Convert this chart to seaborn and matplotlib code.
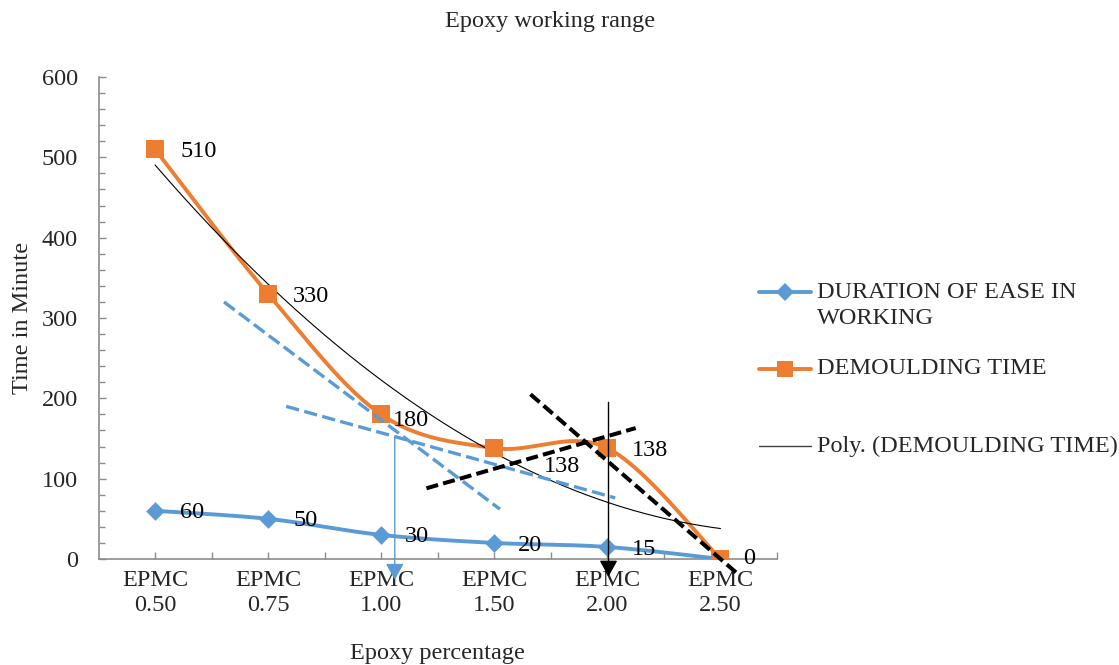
import numpy as np
import pandas as pd
import matplotlib
matplotlib.use("Agg")
import matplotlib.pyplot as plt
from matplotlib.lines import Line2D
from matplotlib.ticker import MultipleLocator, FixedLocator
import seaborn as sns

# ---------------- data ----------------
categories = ["EPMC\n0.50", "EPMC\n0.75", "EPMC\n1.00", "EPMC\n1.50", "EPMC\n2.00", "EPMC\n2.50"]
ease_working = [60, 50, 30, 20, 15, 0]
demoulding = [510, 330, 180, 138, 138, 0]

series_names = ["DURATION OF EASE IN\nWORKING", "DEMOULDING TIME", "Poly. (DEMOULDING TIME)"]

# hand-drawn guide lines of the original (category index, value)
blue_guide1_x, blue_guide1_y = [0.61, 3.05], [320, 62]
blue_guide2_x, blue_guide2_y = [1.16, 4.07], [190, 76]
black_guide1_x, black_guide1_y = [3.32, 5.14], [205, -17]
black_guide2_x, black_guide2_y = [2.40, 4.25], [88, 163]
blue_arrow_x, blue_arrow_y = 2.12, [152, -26]
black_arrow_x, black_arrow_y = 4.01, [195, -22]

# label offsets (pixels) for data labels; None = label hidden under the other series' label
ease_label_off = [(25, -2), (25, -2), (24, -2), (24, -3), (24, -3), None]
dem_label_off = [(25, -2), (25, -3), (12, -6), (50, -18), (24, -2), (23, 0)]

BLUE = "#5B9BD5"
ORANGE = "#ED7D31"
GRAY = "#8C8C8C"


def excel_smooth(xs, ys, n=40):
    P = np.column_stack([xs, ys]).astype(float)
    ext = np.vstack([P[0], P, P[-1]])
    pts = []
    t = np.linspace(0, 1, n)[:, None]
    for i in range(len(P) - 1):
        p0, p1, p2, p3 = ext[i], ext[i + 1], ext[i + 2], ext[i + 3]
        c1 = p1 + (p2 - p0) / 6.0
        c2 = p2 - (p3 - p1) / 6.0
        B = (1 - t) ** 3 * p1 + 3 * (1 - t) ** 2 * t * c1 + 3 * (1 - t) * t ** 2 * c2 + t ** 3 * p2
        pts.append(B if i == 0 else B[1:])
    pts = np.vstack(pts)
    return pts[:, 0], pts[:, 1]


sns.set_theme(style="white")
plt.rcParams["font.family"] = ["Liberation Serif", "DejaVu Serif"]
plt.rcParams["font.size"] = 17

W, H = 1119, 665
fig = plt.figure(figsize=(W / 100, H / 100), dpi=100)
ax = fig.add_axes([98.5 / W, 1 - 559 / H, (777 - 98.5) / W, (559 - 77) / H])

idx = np.arange(len(categories))

# smoothed series lines
ex, ey = excel_smooth(idx, ease_working)
dx, dy = excel_smooth(idx, demoulding)
sns.lineplot(x=ex, y=ey, sort=False, estimator=None, color=BLUE, linewidth=2.8, ax=ax, zorder=3)
sns.lineplot(x=dx, y=dy, sort=False, estimator=None, color=ORANGE, linewidth=2.8, ax=ax, zorder=3)

# polynomial (order 2) trendline of demoulding time, like Excel's
coef = np.polyfit(idx + 1, demoulding, 2)
tx = np.linspace(0, len(categories) - 1, 200)
ty = np.polyval(coef, tx + 1)
sns.lineplot(x=tx, y=ty, sort=False, estimator=None, color="black", linewidth=0.8, ax=ax, zorder=3)

# markers
sns.scatterplot(x=idx, y=ease_working, marker="D", s=90, color=BLUE, edgecolor=BLUE, linewidth=0, ax=ax, zorder=4)
sns.scatterplot(x=idx, y=demoulding, marker="s", s=150, color=ORANGE, edgecolor=ORANGE, linewidth=0, ax=ax, zorder=4)

# data labels
for i, v in enumerate(ease_working):
    if ease_label_off[i] is None:
        continue
    ax.annotate(str(v), (i, v), xytext=ease_label_off[i], textcoords="offset pixels",
                ha="left", va="center", fontsize=17.5, color="black", zorder=6, annotation_clip=False)
for i, v in enumerate(demoulding):
    ax.annotate(str(v), (i, v), xytext=dem_label_off[i], textcoords="offset pixels",
                ha="left", va="center", fontsize=17.5, color="black", zorder=6, annotation_clip=False)

# guide lines
ax.plot(blue_guide1_x, blue_guide1_y, color=BLUE, lw=2.4, dashes=(4, 1.6), zorder=5, clip_on=False)
ax.plot(blue_guide2_x, blue_guide2_y, color=BLUE, lw=2.4, dashes=(4, 1.6), zorder=5, clip_on=False)
ax.plot(black_guide1_x, black_guide1_y, color="black", lw=2.9, dashes=(3, 1.3), zorder=5, clip_on=False)
ax.plot(black_guide2_x, black_guide2_y, color="black", lw=2.9, dashes=(3, 1.3), zorder=5, clip_on=False)

for x, ys, c in [(blue_arrow_x, blue_arrow_y, BLUE), (black_arrow_x, black_arrow_y, "black")]:
    ax.annotate("", xy=(x, ys[1]), xytext=(x, ys[0]),
                arrowprops=dict(arrowstyle="-|>,head_length=1.0,head_width=0.55", color=c, lw=1.0,
                                shrinkA=0, shrinkB=0, mutation_scale=10),
                annotation_clip=False, zorder=7)

# axes styling
ax.set_xlim(-0.5, len(categories) - 0.5)
ax.set_ylim(0, 600)
ax.xaxis.set_major_locator(FixedLocator(idx))
ax.set_xticklabels(categories, linespacing=1.25)
ax.xaxis.set_minor_locator(FixedLocator(idx + 0.5))
ax.yaxis.set_major_locator(MultipleLocator(100))
ax.yaxis.set_minor_locator(MultipleLocator(20))
ax.tick_params(axis="x", which="both", direction="in", length=5, width=1, color=GRAY,
               pad=8, labelsize=17.5, bottom=True)
ax.tick_params(axis="y", which="major", direction="in", length=5, width=1, color=GRAY,
               pad=15, labelsize=17.5, left=True)
ax.tick_params(axis="y", which="minor", direction="in", length=4, width=1, color=GRAY, left=True)
for s in ["top", "right"]:
    ax.spines[s].set_visible(False)
for s in ["left", "bottom"]:
    ax.spines[s].set_color(GRAY)
    ax.spines[s].set_linewidth(1.2)
ax.grid(False)

ax.set_xlabel("Epoxy percentage", fontsize=17.5)
ax.xaxis.set_label_coords(0.5, (559 - 653) / (559 - 77))
ax.xaxis.label.set_va("center")
ax.set_ylabel("Time in Minute", fontsize=17.5)
ax.yaxis.set_label_coords((23 - 98.5) / (777 - 98.5), 0.5)
ax.yaxis.label.set_va("center")

fig.text(550 / W, 1 - 22 / H, "Epoxy working range", ha="center", va="center", fontsize=17.5)

# legend (Excel-like layout)
leg_rows = [
    (292, BLUE, "D", 8.8, 2.8, series_names[0]),
    (369, ORANGE, "s", 12, 2.8, series_names[1]),
    (446, "#404040", None, 0, 1.0, series_names[2]),
]
for (py, c, m, ms, lw, lab) in leg_rows:
    yf = 1 - py / H
    fig.add_artist(Line2D([759 / W, 811 / W], [yf, yf], color=c, lw=lw, transform=fig.transFigure))
    if m:
        fig.add_artist(Line2D([785 / W], [yf], color=c, marker=m, markersize=ms, lw=0,
                              markeredgewidth=0, transform=fig.transFigure))
    lines = lab.split("\n")
    for k, line in enumerate(lines):
        fig.text(817 / W, 1 - (py + 27 * k) / H, line, ha="left", va="center", fontsize=17.5)

fig.savefig("out.png", dpi=100)
